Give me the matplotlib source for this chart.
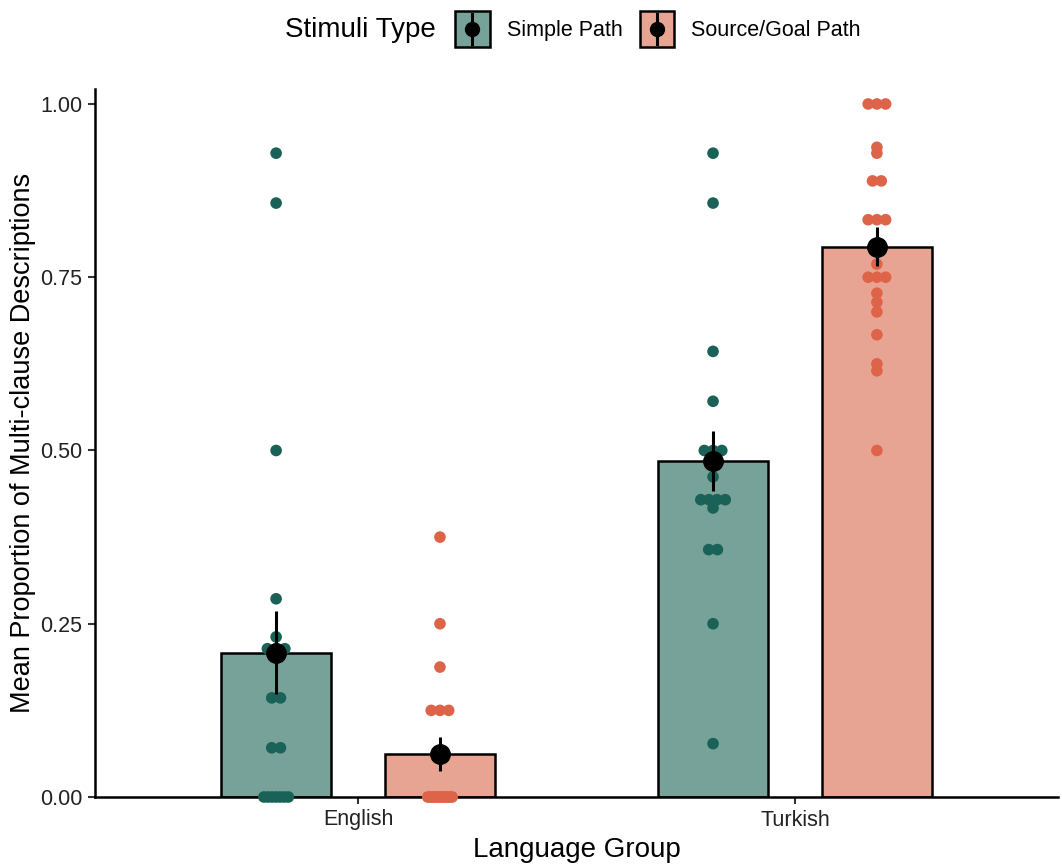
import numpy as np
import matplotlib
matplotlib.use("Agg")
import matplotlib.pyplot as plt
from matplotlib.patches import Rectangle
from matplotlib.lines import Line2D
from matplotlib.legend_handler import HandlerBase

plt.rcParams['font.family'] = ['Liberation Sans', 'DejaVu Sans']

# ---------------- data ----------------
languages = ["English", "Turkish"]
stimuli = ["Simple Path", "Source/Goal Path"]

mean_simple = [0.208, 0.485]
mean_source = [0.062, 0.794]
se_simple = [0.060, 0.043]
se_source = [0.024, 0.028]

eng_simple_pts = [0.929, 0.857, 0.5, 0.286, 0.231, 0.214, 0.214, 0.214,
                  0.143, 0.143, 0.071, 0.071, 0, 0, 0, 0, 0, 0, 0]
eng_source_pts = [0.375, 0.25, 0.1875, 0.125, 0.125, 0.125,
                  0, 0, 0, 0, 0, 0, 0, 0, 0, 0, 0, 0, 0]
tur_simple_pts = [0.929, 0.857, 0.643, 0.571, 0.5, 0.5, 0.5, 0.462,
                  0.429, 0.429, 0.429, 0.429, 0.417, 0.357, 0.357, 0.25, 0.077]
tur_source_pts = [1.0, 1.0, 1.0, 0.9375, 0.929, 0.889, 0.889, 0.833, 0.833, 0.833,
                  0.769, 0.75, 0.75, 0.75, 0.727, 0.714, 0.70, 0.667, 0.625, 0.615, 0.5]

yticks = [0.00, 0.25, 0.50, 0.75, 1.00]
ytick_labels = ["0.00", "0.25", "0.50", "0.75", "1.00"]

# ---------------- style ----------------
bar_fill = {"Simple Path": "#76A29A", "Source/Goal Path": "#E8A493"}
pt_col = {"Simple Path": "#1A6157", "Source/Goal Path": "#DE6449"}
dodge = 0.1875
bar_w = 0.25

fig = plt.figure(figsize=(10.62, 8.66), dpi=100)
ax = fig.add_axes([95 / 1062, 1 - 797 / 866, (1058 - 95) / 1062, (797 - 89) / 866])

x = np.arange(len(languages))
groups = [
    ("Simple Path", -dodge, mean_simple, se_simple, [eng_simple_pts, tur_simple_pts]),
    ("Source/Goal Path", dodge, mean_source, se_source, [eng_source_pts, tur_source_pts]),
]


def spread(vals, spacing=0.02, maxw=0.028):
    vals = np.asarray(vals, dtype=float)
    offs = np.zeros(len(vals))
    for v in np.unique(vals):
        idx = np.where(vals == v)[0]
        k = len(idx)
        if k > 1:
            half = min((k - 1) / 2 * spacing, maxw)
            offs[idx] = np.linspace(-half, half, k)
    return offs


for name, off, means, ses, pts in groups:
    ax.bar(x + off, means, width=bar_w, color=bar_fill[name], edgecolor="black",
           linewidth=1.8, zorder=2)
for name, off, means, ses, pts in groups:
    for xi, p in zip(x, pts):
        xs = xi + off + spread(p)
        ax.scatter(xs, p, s=70, color=pt_col[name], edgecolor="none", zorder=3, clip_on=False)
for name, off, means, ses, pts in groups:
    ax.errorbar(x + off, means, yerr=ses, fmt="o", color="black", markersize=14,
                elinewidth=2.2, capsize=0, zorder=4)

ax.set_xlim(-0.602, 1.602)
ax.set_ylim(0, 1.0216)
ax.set_xticks(x)
ax.set_xticklabels(languages, fontsize=15.5)
ax.set_yticks(yticks)
ax.set_yticklabels(ytick_labels, fontsize=15.5)
ax.tick_params(axis="both", length=5, width=1.5, color="#333333", labelcolor="#222222", pad=4)
for s in ["top", "right"]:
    ax.spines[s].set_visible(False)
for s in ["left", "bottom"]:
    ax.spines[s].set_linewidth(1.8)
ax.set_xlabel("Language Group", fontsize=20, labelpad=5)
ax.set_ylabel("Mean Proportion of Multi-clause Descriptions", fontsize=19.5, labelpad=3)


class BarDotHandler(HandlerBase):
    def __init__(self, fill):
        super().__init__()
        self.fill = fill

    def create_artists(self, legend, orig_handle, xdescent, ydescent, width, height, fontsize, trans):
        rect = Rectangle((-xdescent, -ydescent), width, height, facecolor=self.fill,
                         edgecolor="black", linewidth=1.8, transform=trans)
        cx = -xdescent + width / 2
        line = Line2D([cx, cx], [-ydescent + height * 0.1, -ydescent + height * 0.9],
                      color="black", linewidth=2.2, transform=trans)
        dot = Line2D([cx], [-ydescent + height / 2], marker="o", markersize=10,
                     color="black", linestyle="None", transform=trans)
        return [rect, line, dot]


h1 = Rectangle((0, 0), 1, 1)
h2 = Rectangle((0, 0), 1, 1)
fig.text(285 / 1062, 1 - 30 / 866, "Stimuli Type", fontsize=20, va="center", ha="left")
fig.legend([h1, h2], stimuli, loc="center left", bbox_to_anchor=(440 / 1062, 1 - 29 / 866),
           ncol=2, frameon=False, fontsize=15.5, handlelength=1.6, handleheight=2.25,
           handletextpad=0.8, columnspacing=0.8, borderpad=0.2,
           handler_map={h1: BarDotHandler(bar_fill["Simple Path"]),
                        h2: BarDotHandler(bar_fill["Source/Goal Path"])})

fig.savefig("out.png", dpi=100)
